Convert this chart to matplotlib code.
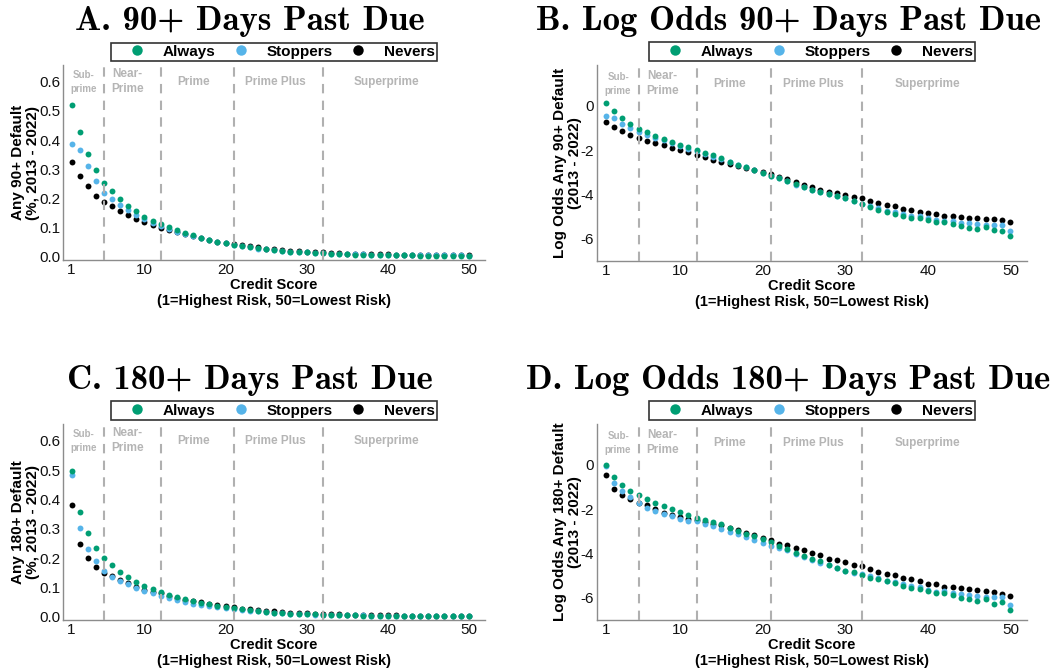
import matplotlib

matplotlib.use("Agg")
import matplotlib.pyplot as plt
from matplotlib.lines import Line2D

plt.rcParams["font.family"] = ["Liberation Sans", "DejaVu Sans"]
plt.rcParams["axes.unicode_minus"] = False

# --- datos --------------------------------------------------------------
scores = list(range(1, 51))

# A. cualquier default 90+ (proporcion)
always_90 = [0.520, 0.426, 0.353, 0.296, 0.254, 0.224, 0.199, 0.175, 0.157, 0.138,
             0.123, 0.114, 0.102, 0.093, 0.083, 0.073, 0.066, 0.058, 0.051, 0.046,
             0.040, 0.037, 0.033, 0.029, 0.025, 0.022, 0.020, 0.018, 0.017, 0.015,
             0.013, 0.012, 0.010, 0.009, 0.008, 0.007, 0.007, 0.006, 0.006, 0.006,
             0.005, 0.005, 0.005, 0.004, 0.004, 0.004, 0.004, 0.004, 0.004, 0.003]
stoppers_90 = [0.385, 0.367, 0.310, 0.260, 0.220, 0.198, 0.176, 0.159, 0.143, 0.130,
               0.117, 0.105, 0.095, 0.085, 0.077, 0.071, 0.064, 0.058, 0.052, 0.047,
               0.041, 0.037, 0.032, 0.028, 0.025, 0.022, 0.020, 0.018, 0.017, 0.015,
               0.013, 0.012, 0.011, 0.010, 0.009, 0.008, 0.008, 0.007, 0.007, 0.006,
               0.006, 0.005, 0.005, 0.005, 0.005, 0.005, 0.005, 0.005, 0.005, 0.004]
nevers_90 = [0.326, 0.277, 0.241, 0.209, 0.187, 0.173, 0.157, 0.143, 0.128, 0.119,
             0.110, 0.099, 0.091, 0.085, 0.079, 0.072, 0.064, 0.057, 0.051, 0.047,
             0.044, 0.039, 0.036, 0.032, 0.028, 0.025, 0.022, 0.020, 0.019, 0.018,
             0.016, 0.015, 0.014, 0.012, 0.011, 0.011, 0.009, 0.009, 0.008, 0.008,
             0.007, 0.007, 0.007, 0.007, 0.006, 0.006, 0.006, 0.006, 0.006, 0.005]

# B. log odds 90+
always_lo90 = [0.14, -0.24, -0.56, -0.83, -1.05, -1.19, -1.35, -1.50, -1.62, -1.76,
               -1.88, -2.00, -2.12, -2.24, -2.36, -2.52, -2.65, -2.78, -2.90, -3.02,
               -3.15, -3.25, -3.38, -3.52, -3.66, -3.78, -3.88, -3.98, -4.08, -4.18,
               -4.30, -4.44, -4.57, -4.68, -4.80, -4.90, -4.98, -5.05, -5.08, -5.16,
               -5.26, -5.23, -5.32, -5.43, -5.49, -5.56, -5.46, -5.61, -5.64, -5.86]
stoppers_lo90 = [-0.45, -0.55, -0.80, -1.02, -1.17, -1.31, -1.44, -1.56, -1.70, -1.82,
                 -1.94, -2.06, -2.18, -2.30, -2.40, -2.54, -2.66, -2.78, -2.90, -3.02,
                 -3.17, -3.27, -3.40, -3.55, -3.68, -3.80, -3.90, -3.98, -4.08, -4.18,
                 -4.30, -4.42, -4.52, -4.62, -4.74, -4.78, -4.86, -4.95, -4.98, -5.08,
                 -5.16, -5.20, -5.20, -5.28, -5.28, -5.31, -5.37, -5.38, -5.38, -5.64]
nevers_lo90 = [-0.72, -0.95, -1.14, -1.32, -1.47, -1.57, -1.69, -1.79, -1.90, -1.99,
               -2.09, -2.20, -2.31, -2.43, -2.52, -2.63, -2.72, -2.80, -2.90, -2.98,
               -3.07, -3.20, -3.30, -3.43, -3.56, -3.66, -3.78, -3.87, -3.95, -4.02,
               -4.10, -4.17, -4.28, -4.40, -4.48, -4.53, -4.66, -4.68, -4.77, -4.84,
               -4.90, -4.95, -4.98, -5.02, -5.05, -5.05, -5.11, -5.10, -5.16, -5.26]

# C. cualquier default 180+ (proporcion)
always_180 = [0.498, 0.357, 0.286, 0.236, 0.200, 0.175, 0.151, 0.134, 0.118, 0.106,
              0.093, 0.084, 0.074, 0.068, 0.061, 0.055, 0.048, 0.043, 0.038, 0.034,
              0.029, 0.025, 0.022, 0.019, 0.016, 0.014, 0.013, 0.011, 0.009, 0.008,
              0.008, 0.007, 0.006, 0.006, 0.005, 0.005, 0.004, 0.004, 0.004, 0.003,
              0.003, 0.003, 0.003, 0.002, 0.002, 0.002, 0.002, 0.002, 0.002, 0.001]
stoppers_180 = [0.482, 0.302, 0.232, 0.189, 0.157, 0.136, 0.122, 0.111, 0.099, 0.089,
                0.080, 0.072, 0.064, 0.057, 0.051, 0.045, 0.041, 0.036, 0.033, 0.029,
                0.025, 0.023, 0.021, 0.018, 0.015, 0.014, 0.012, 0.011, 0.009, 0.008,
                0.007, 0.007, 0.007, 0.006, 0.005, 0.005, 0.005, 0.004, 0.004, 0.004,
                0.003, 0.003, 0.003, 0.003, 0.003, 0.003, 0.003, 0.003, 0.003, 0.002]
nevers_180 = [0.381, 0.248, 0.200, 0.170, 0.150, 0.138, 0.124, 0.114, 0.100, 0.092,
              0.084, 0.081, 0.070, 0.064, 0.058, 0.055, 0.049, 0.044, 0.040, 0.036,
              0.032, 0.028, 0.026, 0.023, 0.021, 0.018, 0.016, 0.014, 0.013, 0.012,
              0.011, 0.010, 0.009, 0.008, 0.007, 0.007, 0.006, 0.006, 0.005, 0.005,
              0.005, 0.004, 0.004, 0.004, 0.004, 0.004, 0.003, 0.003, 0.003, 0.003]

# D. log odds 180+
always_lo180 = [0.00, -0.57, -0.89, -1.16, -1.37, -1.53, -1.71, -1.86, -2.00, -2.14,
                -2.27, -2.39, -2.48, -2.59, -2.69, -2.86, -2.99, -3.11, -3.23, -3.35,
                -3.50, -3.67, -3.82, -3.98, -4.11, -4.24, -4.36, -4.53, -4.66, -4.78,
                -4.85, -4.95, -5.10, -5.17, -5.25, -5.34, -5.46, -5.55, -5.58, -5.70,
                -5.80, -5.79, -5.85, -6.03, -6.05, -6.15, -6.06, -6.26, -6.21, -6.56]
stoppers_lo180 = [-0.05, -0.81, -1.17, -1.46, -1.71, -1.94, -2.09, -2.20, -2.30, -2.44,
                  -2.53, -2.54, -2.65, -2.78, -2.90, -3.01, -3.14, -3.26, -3.38, -3.52,
                  -3.68, -3.76, -3.86, -4.03, -4.17, -4.29, -4.44, -4.51, -4.66, -4.77,
                  -4.89, -4.92, -5.01, -5.11, -5.26, -5.30, -5.38, -5.47, -5.52, -5.64,
                  -5.74, -5.70, -5.77, -5.83, -5.88, -5.91, -5.98, -5.97, -5.98, -6.32]
nevers_lo180 = [-0.47, -1.08, -1.37, -1.56, -1.71, -1.83, -2.01, -2.18, -2.26, -2.36,
                -2.44, -2.50, -2.60, -2.68, -2.72, -2.84, -2.96, -3.08, -3.17, -3.28,
                -3.40, -3.55, -3.62, -3.74, -3.85, -3.98, -4.09, -4.23, -4.30, -4.39,
                -4.50, -4.56, -4.71, -4.84, -4.93, -4.98, -5.11, -5.17, -5.26, -5.37,
                -5.38, -5.49, -5.52, -5.55, -5.59, -5.64, -5.70, -5.73, -5.82, -5.91]

group_names = ["Always", "Stoppers", "Nevers"]
group_colors = ["#009E73", "#56B4E9", "#000000"]

cutoffs = [5, 12, 21, 32]
region_labels = ["Sub-\nprime", "Near-\nPrime", "Prime", "Prime Plus", "Superprime"]
region_x = [2.5, 7.9, 16.0, 26.2, 39.9]

W, H = 1062, 672
GREY_TXT = "#b5b5b5"


def panel(rect, series, title, title_xy, ylabel, yticks, ylim, label_y, fmt):
    left, top, right, bottom = rect
    ax = fig.add_axes([left / W, 1 - bottom / H, (right - left) / W, (bottom - top) / H])

    # nevers debajo, always encima
    for ys, c in reversed(list(zip(series, group_colors))):
        ax.scatter(scores, ys, s=18, color=c, linewidths=0, zorder=2)

    for xc in cutoffs:
        ax.axvline(xc, color="#b0b0b0", lw=1.5, ls=(0, (4.5, 3.5)), zorder=3)

    for lab, xl in zip(region_labels, region_x):
        small = lab.startswith("Sub")
        ax.text(xl, label_y, lab, ha="center", va="center", color=GREY_TXT,
                fontsize=7 if small else 8.5, fontweight="bold",
                linespacing=1.5 if small else 1.3)

    ax.set_xlim(-0.05, 52)
    ax.set_ylim(*ylim)
    ax.set_xticks([1, 10, 20, 30, 40, 50])
    ax.set_yticks(yticks)
    ax.set_yticklabels([fmt.format(v) for v in yticks])
    ax.tick_params(axis="both", length=0, labelsize=11, pad=2, colors="#111111")
    for s in ["top", "right"]:
        ax.spines[s].set_visible(False)
    for s in ["left", "bottom"]:
        ax.spines[s].set_color("#8c8c8c")
        ax.spines[s].set_linewidth(1.0)

    ax.set_xlabel("Credit Score\n(1=Highest Risk, 50=Lowest Risk)",
                  fontsize=10.5, fontweight="bold", labelpad=1, linespacing=1.15)
    ax.set_ylabel(ylabel, fontsize=11, fontweight="bold", labelpad=-1, linespacing=1.1)

    handles = [Line2D([], [], ls="none", marker="o", ms=7.5, mec="none", mfc=c)
               for c in group_colors]
    leg = ax.legend(handles, group_names, ncol=3, loc="lower center",
                    bbox_to_anchor=(0.5, 1.02), borderaxespad=0, frameon=True,
                    fancybox=False, edgecolor="black", handlelength=3.1,
                    handletextpad=0.15, columnspacing=0.1, borderpad=0.15,
                    prop={"weight": "bold", "size": 11})
    leg.get_frame().set_linewidth(1.2)

    fig.text(title_xy[0] / W, 1 - title_xy[1] / H, title, ha="center",
             va="baseline", fontfamily="cmb10", fontsize=25)
    return ax


fig = plt.figure(figsize=(W / 100, H / 100), dpi=100)

prob_ticks = [0.0, 0.1, 0.2, 0.3, 0.4, 0.5, 0.6]
lo_ticks = [0, -2, -4, -6]

panel((63, 65, 485, 260), [always_90, stoppers_90, nevers_90],
      "A. 90+ Days Past Due", (250, 30),
      "Any 90+ Default\n(%, 2013 - 2022)", prob_ticks, (-0.011, 0.657), 0.6, "{:.1f}")
panel((597, 65, 1027, 261), [always_lo90, stoppers_lo90, nevers_lo90],
      "B. Log Odds 90+ Days Past Due", (788, 30),
      "Log Odds Any 90+ Default\n(2013 - 2022)", lo_ticks, (-7.0, 1.84), 1.0, "{:d}")
panel((63, 424, 485, 620), [always_180, stoppers_180, nevers_180],
      "C. 180+ Days Past Due", (250, 389),
      "Any 180+ Default\n(%, 2013 - 2022)", prob_ticks, (-0.011, 0.657), 0.6, "{:.1f}")
panel((597, 424, 1027, 620), [always_lo180, stoppers_lo180, nevers_lo180],
      "D. Log Odds 180+ Days Past Due", (788, 389),
      "Log Odds Any 180+ Default\n(2013 - 2022)", lo_ticks, (-7.0, 1.84), 1.0, "{:d}")

fig.savefig("out.png", dpi=100)
